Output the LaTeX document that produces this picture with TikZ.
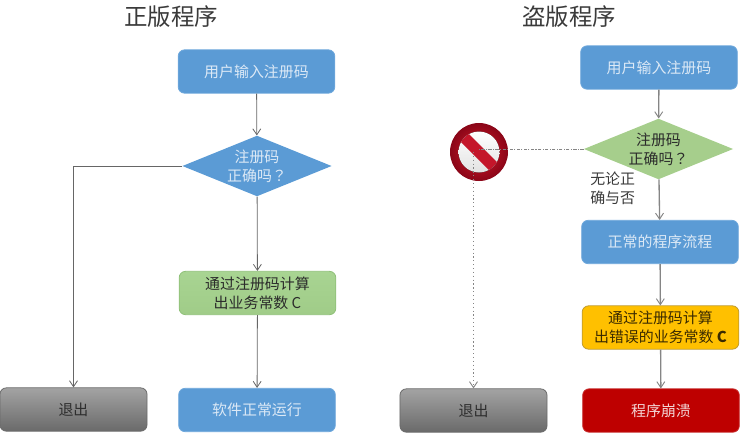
\documentclass[tikz,border=0pt]{standalone}
\usepackage{fontspec}
\setmainfont{Noto Sans CJK SC}
\newfontfamily\markfont{Noto Sans CJK TC}
\usetikzlibrary{shapes.geometric,arrows.meta}
\definecolor{bluefill}{HTML}{5B9BD5}
\definecolor{blueedge}{HTML}{6FA8DC}
\definecolor{bluetext}{HTML}{DCE9F6}
\definecolor{diamgreen}{HTML}{A6CE8C}
\definecolor{inktext}{HTML}{2B2B2B}
\definecolor{linegrey}{HTML}{666666}
\definecolor{linegreyb}{HTML}{858585}
\definecolor{greentop}{HTML}{A8D492}
\definecolor{greenbot}{HTML}{A0CC88}
\definecolor{greenedge}{HTML}{8FC078}
\definecolor{amber}{HTML}{FFC000}
\definecolor{amberedge}{HTML}{BF9B30}
\definecolor{ambertext}{HTML}{3A2A00}
\definecolor{crash}{HTML}{BE0000}
\definecolor{crashedge}{HTML}{C83030}
\definecolor{crashtext}{HTML}{F3D5D5}
\definecolor{greytop}{HTML}{A3A3A3}
\definecolor{greybot}{HTML}{6A6A6A}
\definecolor{greytext}{HTML}{2E2E2E}
\definecolor{softink}{HTML}{3A3A3A}
\definecolor{signin}{HTML}{D81828}
\definecolor{signout}{HTML}{8A0618}
\definecolor{signbar}{HTML}{C4162A}
\definecolor{discbot}{HTML}{E2E2E2}
\tikzset{
  flowbox/.style={rectangle,rounded corners=4.8pt,minimum width=117.5pt,minimum height=32.5pt,
    inner sep=0pt,align=center,font=\fontsize{11.2}{14}\selectfont,line width=.6pt},
  bluebox/.style={flowbox,fill=bluefill,draw=blueedge,text=bluetext},
  greenbox/.style={flowbox,top color=greentop,bottom color=greenbot,draw=greenedge,text=inktext},
  yellowbox/.style={flowbox,fill=amber,draw=amberedge,text=ambertext},
  redbox/.style={flowbox,fill=crash,draw=crashedge,text=crashtext},
  exitbox/.style={flowbox,minimum width=110.3pt,top color=greytop,bottom color=greybot,draw=greybot,text=greytext},
  flowdiamond/.style={diamond,aspect=2.5,inner sep=0pt,minimum width=112pt,minimum height=45.5pt,
    align=center,font=\fontsize{11.2}{14}\selectfont},
  titletext/.style={font=\fontsize{17.6}{20}\selectfont,text=softink},
  notetext/.style={align=left,inner sep=0pt,font=\fontsize{11.2}{14}\selectfont,text=softink},
  leftline/.style={draw=linegrey,line width=.6pt,-{Straight Barb[length=4.5pt,width=6pt]}},
  rightline/.style={draw=linegreyb,line width=1pt,-{Straight Barb[length=4.5pt,width=6pt,line width=.7pt]}},
}
\begin{document}
\begin{tikzpicture}[x=.75pt,y=-.75pt]
\useasboundingbox (0,0) rectangle (740,433);
% titles
\node[titletext] (t1) at (171,17) {正版程序};
\node[titletext] (t2) at (569,17) {盗版程序};
% left flow
\node[bluebox] (a1) at (256.5,71.5) {用户输入注册码};
\node[flowdiamond,fill=bluefill,text=bluetext] (a2) at (257,166) {注册码\\正确吗{\markfont ？}};
\node[greenbox] (a3) at (257.5,293) {通过注册码计算\\出业务常数 C};
\node[exitbox] (a4) at (73.5,409.5) {退出};
\node[bluebox] (a5) at (257,410) {软件正常运行};
\draw[leftline] (a1) -- (a2);
\draw[leftline] (a2) -- (a3);
\draw[leftline] (a3) -- (a5);
\draw[leftline] (a2.west) -| (a4.north);
% right flow
\node[bluebox] (b1) at (659,67.5) {用户输入注册码};
\node[flowdiamond,fill=diamgreen,text=inktext] (b2) at (658.5,149) {注册码\\正确吗{\markfont ？}};
\node[bluebox] (b3) at (660,242) {正常的程序流程};
\node[yellowbox] (b4) at (660.5,327.5) {通过注册码计算\\出错误的业务常数 \textbf{C}};
\node[redbox] (b5) at (661,410.5) {程序崩溃};
\node[exitbox] (b6) at (473.5,410.5) {退出};
\node[notetext,anchor=north west] (note) at (590,172) {无论正\\确与否};
\draw[rightline] (b1) -- (b2);
\draw[rightline] (b2) -- (b3);
\draw[rightline] (b3) -- (b4);
\draw[rightline] (b4) -- (b5);
% prohibition sign
\node[circle,minimum size=43.5pt,inner sep=0pt,inner color=signin,outer color=signout] (sign) at (479,152) {};
\begin{scope}
  \clip (sign.center) circle (20.5);
  \fill[top color=white,bottom color=discbot] (458,131) rectangle (500,173);
  \fill[signbar] ([shift={(-25,-17)}]sign.center) -- ([shift={(-17,-25)}]sign.center)
     -- ([shift={(25,17)}]sign.center) -- ([shift={(17,25)}]sign.center) -- cycle;
\end{scope}
\draw[draw=linegreyb,line width=.7pt,dash pattern=on 2.5pt off 1pt on .8pt off 1pt] (b2.west) -- (b2.west -| sign.center);
\draw[draw=linegreyb,line width=.9pt,dotted,-{Straight Barb[length=4.5pt,width=6pt,line width=.7pt]}] (b6.north |- sign.center) -- (b6.north);
\end{tikzpicture}
\end{document}
